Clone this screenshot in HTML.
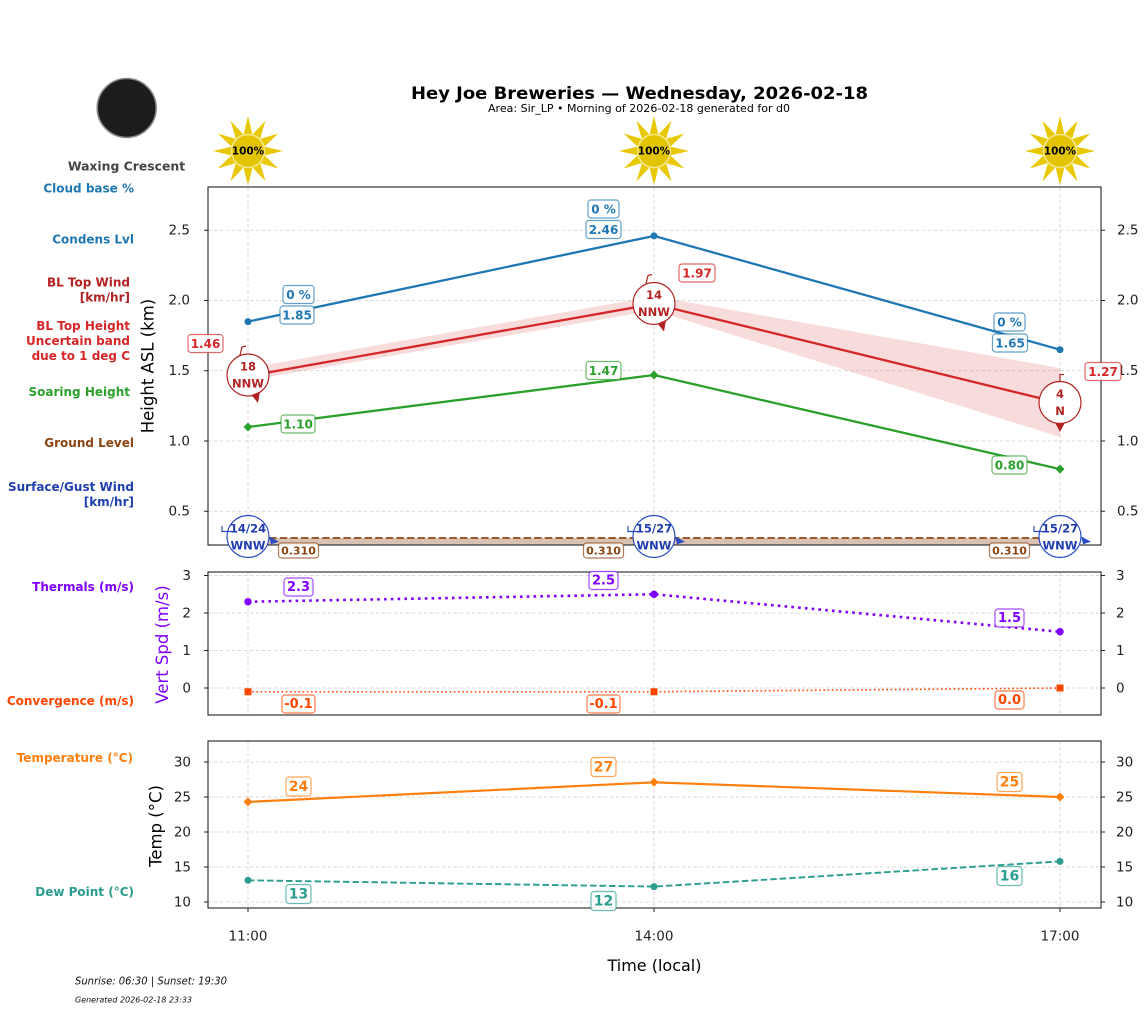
<!DOCTYPE html>
<html><head><meta charset="utf-8"><style>
html,body{margin:0;padding:0;background:#fff;}
svg{display:block;font-family:"DejaVu Sans","Liberation Sans",sans-serif;}
.lb{font-weight:bold;text-anchor:end;font-size:12px;}
.tk{font-size:13.5px;fill:#222;}
.bx{fill:#fff;fill-opacity:0.92;stroke-width:1.2;stroke-opacity:0.7;}
.bt{font-weight:bold;text-anchor:middle;dominant-baseline:central;}
.grid{stroke:#d0d0d0;stroke-width:0.8;stroke-dasharray:3.5,2.5;fill:none;}
.ax{fill:none;stroke:#222;stroke-width:1.1;}
</style></head><body>
<svg width="1147" height="1011" viewBox="0 0 1147 1011" xmlns="http://www.w3.org/2000/svg">
<rect width="1147" height="1011" fill="#fff"/>

<!-- Title -->
<text x="639.5" y="99" text-anchor="middle" font-weight="bold" font-size="16.5" textLength="457" lengthAdjust="spacingAndGlyphs">Hey Joe Breweries — Wednesday, 2026-02-18</text>
<text x="639" y="112" text-anchor="middle" font-size="10.5" textLength="302" lengthAdjust="spacingAndGlyphs">Area: Sir_LP • Morning of 2026-02-18 generated for d0</text>

<!-- Moon -->
<circle cx="126.7" cy="108" r="29.5" fill="#1c1c1c" stroke="#8a8a8a" stroke-width="1.6"/>
<text x="126.5" y="170.5" text-anchor="middle" font-weight="bold" font-size="12.4" fill="#444">Waxing Crescent</text>

<!-- Suns -->
<defs>
<g id="sun">
<polygon points="0,-35 4.4,-16.42 17.5,-30.31 12.02,-12.02 30.31,-17.5 16.42,-4.4 35,0 16.42,4.4 30.31,17.5 12.02,12.02 17.5,30.31 4.4,16.42 0,35 -4.4,16.42 -17.5,30.31 -12.02,12.02 -30.31,17.5 -16.42,4.4 -35,0 -16.42,-4.4 -30.31,-17.5 -12.02,-12.02 -17.5,-30.31 -4.4,-16.42" fill="#e8c800"/>
<circle r="16.5" fill="#e3c400" stroke="#f6e890" stroke-width="1.5"/>
</g>
</defs>
<use href="#sun" x="248" y="151"/>
<use href="#sun" x="654" y="151"/>
<use href="#sun" x="1060" y="151"/>
<text x="248" y="151.5" class="bt" font-size="10.5" fill="#000">100%</text>
<text x="654" y="151.5" class="bt" font-size="10.5" fill="#000">100%</text>
<text x="1060" y="151.5" class="bt" font-size="10.5" fill="#000">100%</text>

<!-- Left labels -->
<text class="lb" x="134" y="192.5" fill="#1f77b4">Cloud base %</text>
<text class="lb" x="134" y="243.5" fill="#1f77b4">Condens Lvl</text>
<text class="lb" x="130" y="286.5" fill="#b22222">BL Top Wind</text>
<text class="lb" x="130" y="301.5" fill="#b22222">[km/hr]</text>
<text class="lb" x="130" y="330" fill="#d62728">BL Top Height</text>
<text class="lb" x="130" y="345" fill="#d62728">Uncertain band</text>
<text class="lb" x="130" y="360" fill="#d62728">due to 1 deg C</text>
<text class="lb" x="130" y="396" fill="#2ca02c">Soaring Height</text>
<text class="lb" x="134" y="447" fill="#8b4513">Ground Level</text>
<text class="lb" x="134" y="491" fill="#2040b0">Surface/Gust Wind</text>
<text class="lb" x="134" y="506" fill="#2040b0">[km/hr]</text>
<text class="lb" x="134" y="591" fill="#7f00ff">Thermals (m/s)</text>
<text class="lb" x="134" y="705" fill="#ff4500">Convergence (m/s)</text>
<text class="lb" x="133" y="762" fill="#ff7f0e">Temperature (°C)</text>
<text class="lb" x="134" y="896" fill="#2a9d8f">Dew Point (°C)</text>

<!-- ================= MAIN PANEL ================= -->
<g class="grid">
<line x1="208" x2="1101" y1="230.25" y2="230.25"/>
<line x1="208" x2="1101" y1="300.5" y2="300.5"/>
<line x1="208" x2="1101" y1="370.75" y2="370.75"/>
<line x1="208" x2="1101" y1="441" y2="441"/>
<line x1="208" x2="1101" y1="511.25" y2="511.25"/>
<line x1="248" x2="248" y1="182" y2="545"/>
<line x1="654" x2="654" y1="182" y2="545"/>
<line x1="1060" x2="1060" y1="182" y2="545"/>
</g>

<!-- BL band -->
<polygon points="248,368 654,296.3 1060,368 1060,437 654,310.3 248,380.6" fill="#d62728" fill-opacity="0.16"/>

<!-- ground -->
<rect x="248" y="538" width="812" height="7" fill="#8b4513" fill-opacity="0.33"/>
<line x1="248" x2="1060" y1="538" y2="538" stroke="#9a5a30" stroke-width="2" stroke-dasharray="7.4,3.2"/>

<!-- blue -->
<polyline points="248,321.6 654,235.9 1060,349.7" fill="none" stroke="#1f77b4" stroke-width="2.3"/>
<circle cx="248" cy="321.6" r="3.5" fill="#1f77b4"/>
<circle cx="654" cy="235.9" r="3.5" fill="#1f77b4"/>
<circle cx="1060" cy="349.7" r="3.5" fill="#1f77b4"/>

<!-- green -->
<polyline points="248,427 654,375 1060,469.1" fill="none" stroke="#2ca02c" stroke-width="2.3"/>
<polygon points="248,422.5 252.5,427 248,431.5 243.5,427" fill="#2ca02c"/>
<polygon points="654,370.5 658.5,375 654,379.5 649.5,375" fill="#2ca02c"/>
<polygon points="1060,464.6 1064.5,469.1 1060,473.6 1055.5,469.1" fill="#2ca02c"/>

<!-- red -->
<polyline points="248,376 654,304 1060,403" fill="none" stroke="#d62728" stroke-width="2.3"/>

<!-- axes frame main -->
<rect class="ax" x="208" y="187" width="893" height="358"/>
<g stroke="#222" stroke-width="1">
<line x1="204" x2="208" y1="230.25" y2="230.25"/><line x1="204" x2="208" y1="300.5" y2="300.5"/><line x1="204" x2="208" y1="370.75" y2="370.75"/><line x1="204" x2="208" y1="441" y2="441"/><line x1="204" x2="208" y1="511.25" y2="511.25"/>
<line x1="1101" x2="1105" y1="230.25" y2="230.25"/><line x1="1101" x2="1105" y1="300.5" y2="300.5"/><line x1="1101" x2="1105" y1="370.75" y2="370.75"/><line x1="1101" x2="1105" y1="441" y2="441"/><line x1="1101" x2="1105" y1="511.25" y2="511.25"/>
</g>
<g class="tk" text-anchor="end" dominant-baseline="central">
<text x="190" y="230.5">2.5</text><text x="190" y="300.7">2.0</text><text x="190" y="371">1.5</text><text x="190" y="441.3">1.0</text><text x="190" y="511.5">0.5</text>
</g>
<g class="tk" text-anchor="start" dominant-baseline="central">
<text x="1117" y="230.5">2.5</text><text x="1117" y="300.7">2.0</text><text x="1117" y="371">1.5</text><text x="1117" y="441.3">1.0</text><text x="1117" y="511.5">0.5</text>
</g>
<text transform="translate(148,366) rotate(-90)" text-anchor="middle" dominant-baseline="central" font-size="16.5" fill="#000">Height ASL (km)</text>

<!-- BL wind circles -->
<g fill="#fff" stroke="#b22222" stroke-width="1.2">
<circle cx="248" cy="375" r="21"/>
<circle cx="654" cy="303.5" r="21"/>
<circle cx="1060" cy="402.5" r="21"/>
</g>
<g stroke="#b22222" stroke-width="1.2" fill="none">
<polyline points="240,355 242,347 246,346"/>
<polyline points="646,283.5 648,275.5 652,274.5"/>
<polyline points="1060,381.5 1060,374.5 1064,374.5"/>
</g>
<g fill="#b22222">
<polygon points="251.5,395 260,391.5 258,403"/>
<polygon points="657.5,323.5 666,320 664,331.5"/>
<polygon points="1055.5,423.5 1064.5,423.5 1060,432"/>
</g>
<g class="bt" font-size="11.5" fill="#b22222">
<text x="248" y="366.5">18</text><text x="248" y="383.5">NNW</text>
<text x="654" y="295">14</text><text x="654" y="312">NNW</text>
<text x="1060" y="394">4</text><text x="1060" y="411">N</text>
</g>

<!-- Surface wind circles -->
<g fill="#fff" stroke="#2a4cc0" stroke-width="1.2">
<circle cx="248" cy="536.5" r="21"/>
<circle cx="654" cy="536.5" r="21"/>
<circle cx="1060" cy="536.5" r="21"/>
</g>
<g stroke="#2a4cc0" stroke-width="1.2" fill="none">
<polyline points="222,526 222,531.5 232,531.5"/>
<polyline points="628,526 628,531.5 638,531.5"/>
<polyline points="1034,526 1034,531.5 1044,531.5"/>
</g>
<g fill="#2a4cc0">
<polygon points="269.3,536.5 271,544.3 279,541.7"/>
<polygon points="675.3,536.5 677,544.3 685,541.7"/>
<polygon points="1081.3,536.5 1083,544.3 1091,541.7"/>
</g>
<g class="bt" font-size="11.5" fill="#1f3db0">
<text x="248" y="528.5">14/24</text><text x="248" y="545.5">WNW</text>
<text x="654" y="528.5">15/27</text><text x="654" y="545.5">WNW</text>
<text x="1060" y="528.5">15/27</text><text x="1060" y="545.5">WNW</text>
</g>

<!-- main labels -->
<g stroke="#1f77b4" class="bx">
<rect x="283" y="285.5" width="31" height="18" rx="3"/>
<rect x="280" y="306" width="34" height="18" rx="3"/>
<rect x="588" y="200" width="31" height="18" rx="3"/>
<rect x="586" y="220.5" width="35" height="18" rx="3"/>
<rect x="994" y="313" width="31" height="18" rx="3"/>
<rect x="992.5" y="334" width="35" height="18" rx="3"/>
</g>
<g class="bt" font-size="12" fill="#1f77b4">
<text x="298.5" y="295">0 %</text><text x="297" y="315.5">1.85</text>
<text x="603.5" y="209.5">0 %</text><text x="603.5" y="230">2.46</text>
<text x="1009.5" y="322.5">0 %</text><text x="1010" y="343.5">1.65</text>
</g>
<g stroke="#d62728" class="bx">
<rect x="188" y="334.5" width="35" height="18" rx="3"/>
<rect x="679" y="264" width="36" height="18" rx="3"/>
<rect x="1085" y="362.5" width="36" height="18" rx="3"/>
</g>
<g class="bt" font-size="12" fill="#d62728">
<text x="205.5" y="344">1.46</text><text x="697" y="273.5">1.97</text><text x="1103" y="372">1.27</text>
</g>
<g stroke="#2ca02c" class="bx">
<rect x="281" y="415" width="34" height="18" rx="3"/>
<rect x="586" y="361.5" width="35" height="18" rx="3"/>
<rect x="992" y="456" width="35" height="18" rx="3"/>
</g>
<g class="bt" font-size="12" fill="#2ca02c">
<text x="298" y="424.5">1.10</text><text x="603.5" y="371">1.47</text><text x="1009.5" y="465.5">0.80</text>
</g>
<g stroke="#8b4513" class="bx">
<rect x="278.5" y="543" width="40" height="15" rx="3"/>
<rect x="583.5" y="543" width="40" height="15" rx="3"/>
<rect x="989.5" y="543" width="40" height="15" rx="3"/>
</g>
<g class="bt" font-size="11" fill="#8b4513">
<text x="298.5" y="551">0.310</text><text x="603.5" y="551">0.310</text><text x="1009.5" y="551">0.310</text>
</g>

<!-- ================= VERT PANEL ================= -->
<g class="grid">
<line x1="208" x2="1101" y1="575.5" y2="575.5"/>
<line x1="208" x2="1101" y1="613" y2="613"/>
<line x1="208" x2="1101" y1="650.5" y2="650.5"/>
<line x1="208" x2="1101" y1="688" y2="688"/>
<line x1="248" x2="248" y1="572" y2="715"/>
<line x1="654" x2="654" y1="572" y2="715"/>
<line x1="1060" x2="1060" y1="572" y2="715"/>
</g>
<polyline points="248,601.75 654,594.25 1060,631.75" fill="none" stroke="#7f00ff" stroke-width="2.6" stroke-dasharray="2.6,4.2"/>
<circle cx="248" cy="601.75" r="3.7" fill="#7f00ff"/>
<circle cx="654" cy="594.25" r="3.7" fill="#7f00ff"/>
<circle cx="1060" cy="631.75" r="3.7" fill="#7f00ff"/>
<polyline points="248,691.75 654,691.75 1060,688" fill="none" stroke="#ff4500" stroke-width="1.6" stroke-dasharray="1.6,2.6"/>
<rect x="244.5" y="688.25" width="7" height="7" fill="#ff4500"/>
<rect x="650.5" y="688.25" width="7" height="7" fill="#ff4500"/>
<rect x="1056.5" y="684.5" width="7" height="7" fill="#ff4500"/>

<rect class="ax" x="208" y="572" width="893" height="143"/>
<g stroke="#222" stroke-width="1">
<line x1="204" x2="208" y1="575.5" y2="575.5"/><line x1="204" x2="208" y1="613" y2="613"/><line x1="204" x2="208" y1="650.5" y2="650.5"/><line x1="204" x2="208" y1="688" y2="688"/>
<line x1="1101" x2="1105" y1="575.5" y2="575.5"/><line x1="1101" x2="1105" y1="613" y2="613"/><line x1="1101" x2="1105" y1="650.5" y2="650.5"/><line x1="1101" x2="1105" y1="688" y2="688"/>
</g>
<g class="tk" text-anchor="end" dominant-baseline="central">
<text x="191" y="576">3</text><text x="191" y="613.5">2</text><text x="191" y="651">1</text><text x="191" y="688.5">0</text>
</g>
<g class="tk" text-anchor="start" dominant-baseline="central">
<text x="1116" y="576">3</text><text x="1116" y="613.5">2</text><text x="1116" y="651">1</text><text x="1116" y="688.5">0</text>
</g>
<text transform="translate(162.5,644.5) rotate(-90)" text-anchor="middle" dominant-baseline="central" font-size="16.5" fill="#7f00ff">Vert Spd (m/s)</text>

<g stroke="#7f00ff" class="bx">
<rect x="284" y="578" width="29" height="18" rx="3"/>
<rect x="589" y="571.5" width="29" height="18" rx="3"/>
<rect x="995" y="609" width="29" height="18" rx="3"/>
</g>
<g class="bt" font-size="13" fill="#7f00ff">
<text x="298.5" y="587.5">2.3</text><text x="603.5" y="581">2.5</text><text x="1009.5" y="618.5">1.5</text>
</g>
<g stroke="#ff4500" class="bx">
<rect x="282" y="695" width="33" height="18" rx="3"/>
<rect x="587" y="695" width="33" height="18" rx="3"/>
<rect x="995" y="691" width="29" height="18" rx="3"/>
</g>
<g class="bt" font-size="13" fill="#ff4500">
<text x="298.5" y="704.5">-0.1</text><text x="603.5" y="704.5">-0.1</text><text x="1009.5" y="700.5">0.0</text>
</g>

<!-- ================= TEMP PANEL ================= -->
<g class="grid">
<line x1="208" x2="1101" y1="762" y2="762"/>
<line x1="208" x2="1101" y1="797" y2="797"/>
<line x1="208" x2="1101" y1="832" y2="832"/>
<line x1="208" x2="1101" y1="867" y2="867"/>
<line x1="208" x2="1101" y1="902" y2="902"/>
<line x1="248" x2="248" y1="741" y2="908"/>
<line x1="654" x2="654" y1="741" y2="908"/>
<line x1="1060" x2="1060" y1="741" y2="908"/>
</g>
<polyline points="248,801.9 654,782.3 1060,797" fill="none" stroke="#ff7f0e" stroke-width="2.2"/>
<polygon points="248,797.4 252.5,801.9 248,806.4 243.5,801.9" fill="#ff7f0e"/>
<polygon points="654,777.8 658.5,782.3 654,786.8 649.5,782.3" fill="#ff7f0e"/>
<polygon points="1060,792.5 1064.5,797 1060,801.5 1055.5,797" fill="#ff7f0e"/>
<polyline points="248,880.3 654,886.6 1060,861.4" fill="none" stroke="#2a9d8f" stroke-width="1.9" stroke-dasharray="6.5,3"/>
<circle cx="248" cy="880.3" r="3.5" fill="#2a9d8f"/>
<circle cx="654" cy="886.6" r="3.5" fill="#2a9d8f"/>
<circle cx="1060" cy="861.4" r="3.5" fill="#2a9d8f"/>

<rect class="ax" x="208" y="741" width="893" height="167"/>
<g stroke="#222" stroke-width="1">
<line x1="204" x2="208" y1="762" y2="762"/><line x1="204" x2="208" y1="797" y2="797"/><line x1="204" x2="208" y1="832" y2="832"/><line x1="204" x2="208" y1="867" y2="867"/><line x1="204" x2="208" y1="902" y2="902"/>
<line x1="1101" x2="1105" y1="762" y2="762"/><line x1="1101" x2="1105" y1="797" y2="797"/><line x1="1101" x2="1105" y1="832" y2="832"/><line x1="1101" x2="1105" y1="867" y2="867"/><line x1="1101" x2="1105" y1="902" y2="902"/>
<line x1="248" x2="248" y1="908" y2="912"/><line x1="654" x2="654" y1="908" y2="912"/><line x1="1060" x2="1060" y1="908" y2="912"/>
</g>
<g class="tk" text-anchor="end" dominant-baseline="central">
<text x="191" y="762.5">30</text><text x="191" y="797.5">25</text><text x="191" y="832.5">20</text><text x="191" y="867.5">15</text><text x="191" y="902.5">10</text>
</g>
<g class="tk" text-anchor="start" dominant-baseline="central">
<text x="1116" y="762.5">30</text><text x="1116" y="797.5">25</text><text x="1116" y="832.5">20</text><text x="1116" y="867.5">15</text><text x="1116" y="902.5">10</text>
</g>
<text transform="translate(156,826) rotate(-90)" text-anchor="middle" dominant-baseline="central" font-size="16.5" fill="#000">Temp (°C)</text>

<g stroke="#ff7f0e" class="bx">
<rect x="286" y="777" width="25" height="19" rx="3"/>
<rect x="591" y="757.5" width="25" height="19" rx="3"/>
<rect x="997" y="772.5" width="25" height="19" rx="3"/>
</g>
<g class="bt" font-size="14" fill="#ff7f0e">
<text x="298.5" y="787">24</text><text x="603.5" y="767.5">27</text><text x="1009.5" y="782.5">25</text>
</g>
<g stroke="#2a9d8f" class="bx">
<rect x="286" y="884.5" width="25" height="19" rx="3"/>
<rect x="591" y="891.5" width="25" height="19" rx="3"/>
<rect x="997" y="866.5" width="25" height="19" rx="3"/>
</g>
<g class="bt" font-size="14" fill="#2a9d8f">
<text x="298.5" y="894.5">13</text><text x="603.5" y="901.5">12</text><text x="1009.5" y="876.5">16</text>
</g>

<!-- x ticks -->
<g class="tk" text-anchor="middle" dominant-baseline="central" fill="#111">
<text x="248" y="936.5">11:00</text><text x="654" y="936.5">14:00</text><text x="1060" y="936.5">17:00</text>
</g>
<text x="654.5" y="965.5" text-anchor="middle" dominant-baseline="central" font-size="16" fill="#000">Time (local)</text>

<!-- footer -->
<text x="75" y="984.5" font-size="10.3" font-style="italic" fill="#111" textLength="152" lengthAdjust="spacingAndGlyphs">Sunrise: 06:30 | Sunset: 19:30</text>
<text x="75" y="1002.5" font-size="8" font-style="italic" fill="#111" textLength="117" lengthAdjust="spacingAndGlyphs">Generated 2026-02-18 23:33</text>
</svg>
</body></html>
